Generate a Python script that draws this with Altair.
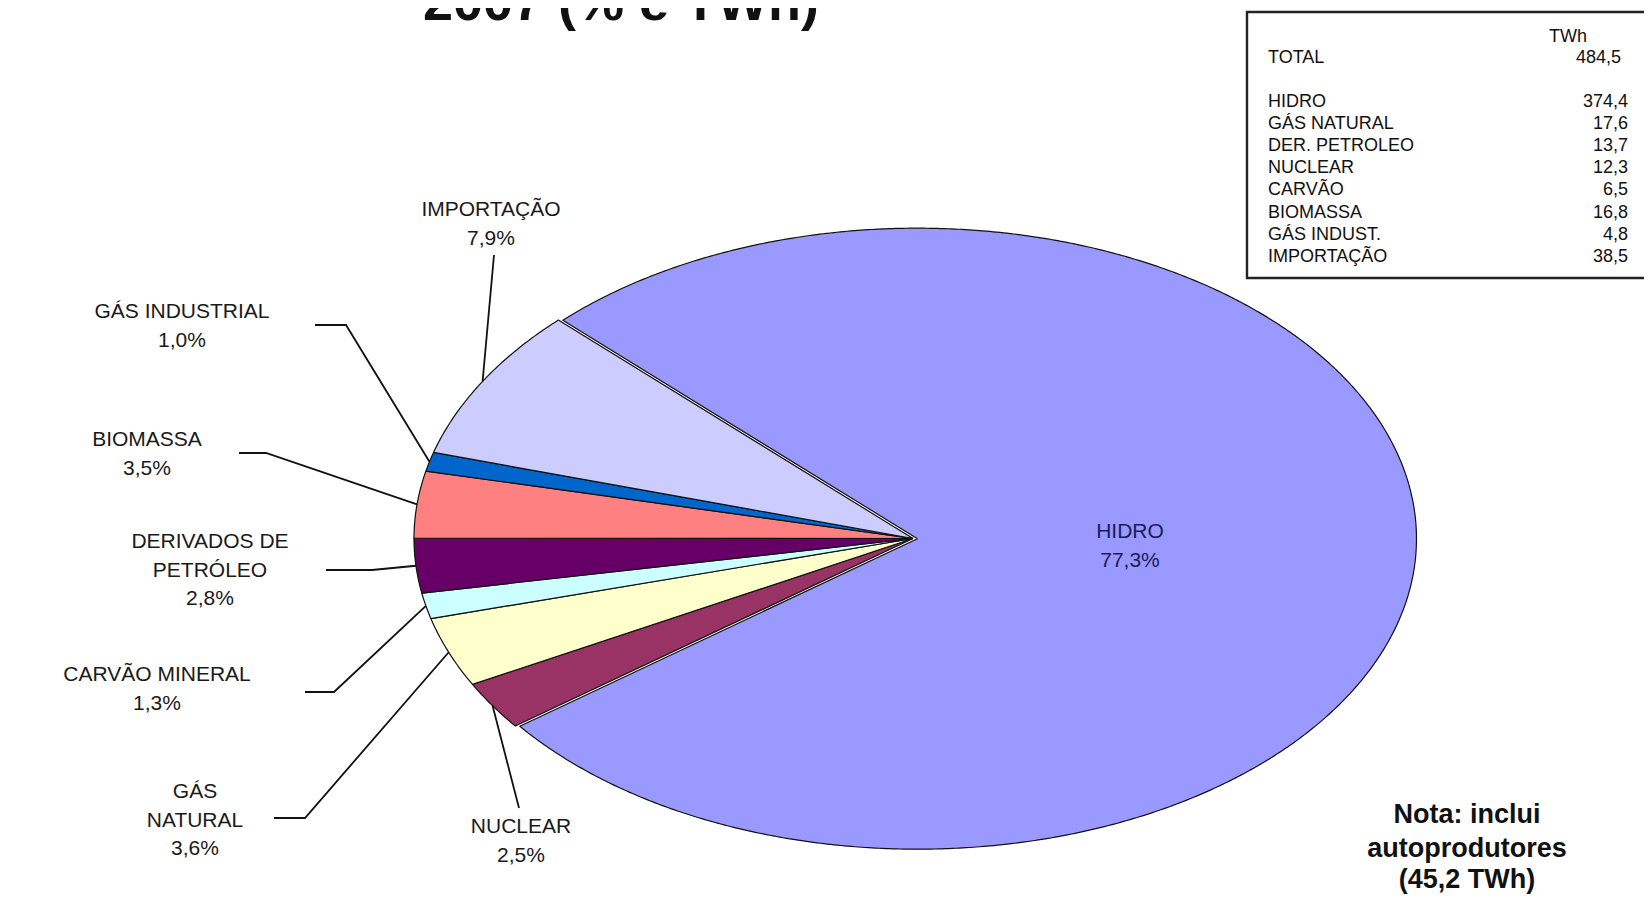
import math
import altair as alt
import pandas as pd

# ------------------------------------------------------------------ data
categories = ["HIDRO", "NUCLEAR", "GÁS NATURAL", "CARVÃO MINERAL",
              "DERIVADOS DE PETRÓLEO", "BIOMASSA", "GÁS INDUSTRIAL", "IMPORTAÇÃO"]
twh = [374.4, 12.3, 17.6, 6.5, 13.7, 16.8, 4.8, 38.5]
pct_labels = ["77,3%", "2,5%", "3,6%", "1,3%", "2,8%", "3,5%", "1,0%", "7,9%"]
label_lines = [["HIDRO"], ["NUCLEAR"], ["GÁS", "NATURAL"], ["CARVÃO MINERAL"],
               ["DERIVADOS DE", "PETRÓLEO"], ["BIOMASSA"], ["GÁS INDUSTRIAL"],
               ["IMPORTAÇÃO"]]
slice_colors = ["#9999FF", "#993366", "#FFFFCC", "#CCFFFF",
                "#660066", "#FF8080", "#0066CC", "#CCCCFF"]

table_header = "TWh"
table_total_label = "TOTAL"
table_total_value = "484,5"
table_labels = ["HIDRO", "GÁS NATURAL", "DER. PETROLEO", "NUCLEAR",
                "CARVÃO", "BIOMASSA", "GÁS INDUST.", "IMPORTAÇÃO"]
table_values = ["374,4", "17,6", "13,7", "12,3", "6,5", "16,8", "4,8", "38,5"]
note_lines = ["Nota: inclui", "autoprodutores", "(45,2 TWh)"]
title_text = "2007 (% e TWh)"

# ------------------------------------------------------------------ layout
W, H = 1636, 890
PAGE = 8
CX, CY, RX, RY = 913.0, 538.5, 499.0, 310.5
START_DEG = -45.3
EXPLODE = {"HIDRO": 0.009}
FONT = "Liberation Sans"


def u(px):
    return (px - CX) / RX


def v(py):
    return (CY - py) / RY


X_DOM = [u(PAGE), u(PAGE + W)]
Y_DOM = [v(PAGE + H), v(PAGE)]

LEADERS = {
    "NUCLEAR": [(519, 808)],
    "GÁS NATURAL": [(305, 818), (274, 818)],
    "CARVÃO MINERAL": [(334, 692), (305, 692)],
    "DERIVADOS DE PETRÓLEO": [(372, 570), (326, 570)],
    "BIOMASSA": [(266, 453), (239, 453)],
    "GÁS INDUSTRIAL": [(346, 325), (315, 325)],
    "IMPORTAÇÃO": [(494, 255)],
}
LABEL_POS = {
    "HIDRO": (1130, 532),
    "NUCLEAR": (521, 827),
    "GÁS NATURAL": (195, 792),
    "CARVÃO MINERAL": (157, 675),
    "DERIVADOS DE PETRÓLEO": (210, 542),
    "BIOMASSA": (147, 440),
    "GÁS INDUSTRIAL": (182, 312),
    "IMPORTAÇÃO": (491, 210),
}
LINE_STEP = 28.5
BOX_PATH = [(1680, 12), (1247, 12), (1247, 278), (1680, 278)]

# ------------------------------------------------------------------ geometry
total = sum(twh)
pie_rows = []
edge_mid = {}
a = START_DEG
for name, val in zip(categories, twh):
    span = val / total * 360.0
    a0 = a
    mid = math.radians(a0 + span / 2)
    ex = EXPLODE.get(name, 0.0)
    ox, oy = ex * math.sin(mid), ex * math.cos(mid)
    n = max(3, int(span / 0.4) + 1)
    pts = [(0.0, 0.0)]
    for k in range(n):
        t = math.radians(a0 + span * k / (n - 1))
        pts.append((math.sin(t), math.cos(t)))
    pts.append((0.0, 0.0))
    for i, (x, y) in enumerate(pts):
        pie_rows.append({"name": name, "i": i, "x": x + ox, "y": y + oy})
    edge_mid[name] = (math.sin(mid) + ox, math.cos(mid) + oy)
    a += span
pie_df = pd.DataFrame(pie_rows)

lead_rows = []
for name, elbows in LEADERS.items():
    ex, ey = edge_mid[name]
    pts = [(ex, ey)] + [(u(px), v(py)) for px, py in elbows]
    for i, (x, y) in enumerate(pts):
        lead_rows.append({"name": name, "i": i, "x": x, "y": y})
lead_df = pd.DataFrame(lead_rows)

lab_rows = []
for name, lines, pct in zip(categories, label_lines, pct_labels):
    px, py = LABEL_POS[name]
    for j, t in enumerate(lines + [pct]):
        lab_rows.append({"name": name, "x": u(px), "y": v(py + j * LINE_STEP),
                         "text": t, "inside": name == "HIDRO"})
lab_df = pd.DataFrame(lab_rows)

xs = alt.Scale(domain=X_DOM, nice=False, zero=False)
ys = alt.Scale(domain=Y_DOM, nice=False, zero=False)
X = lambda f="x": alt.X(f"{f}:Q", scale=xs, axis=None)
Y = lambda f="y": alt.Y(f"{f}:Q", scale=ys, axis=None)

pie = alt.Chart(pie_df).mark_line(
    filled=True, stroke="#111111", strokeWidth=1.2, strokeJoin="round"
).encode(
    x=X(), y=Y(),
    color=alt.Color("name:N", scale=alt.Scale(domain=categories, range=slice_colors),
                    legend=None),
    detail="name:N",
    order=alt.Order("i:Q"),
)

leaders = alt.Chart(lead_df).mark_line(color="#111111", strokeWidth=1.8).encode(
    x=X(), y=Y(), detail="name:N", order=alt.Order("i:Q"))

labels_out = alt.Chart(lab_df[~lab_df["inside"]]).mark_text(
    font=FONT, fontSize=21, color="#1a1a1a", align="center", baseline="middle"
).encode(x=X(), y=Y(), text="text:N")

labels_in = alt.Chart(lab_df[lab_df["inside"]]).mark_text(
    font=FONT, fontSize=21, color="#1b1b58", align="center", baseline="middle"
).encode(x=X(), y=Y(), text="text:N")

# table box (open on the right, as in the reference)
box_df = pd.DataFrame([{"i": k, "x": u(px), "y": v(py)} for k, (px, py) in enumerate(BOX_PATH)])
box = alt.Chart(box_df).mark_line(color="#222222", strokeWidth=2.4).encode(
    x=X(), y=Y(), order=alt.Order("i:Q"))

tl_rows = [{"x": u(1268), "y": v(58), "text": table_total_label}]
tv_rows = [{"x": u(1621), "y": v(58), "text": table_total_value}]
for k, (lab, val) in enumerate(zip(table_labels, table_values)):
    yy = 102 + k * 22.1
    tl_rows.append({"x": u(1268), "y": v(yy), "text": lab})
    tv_rows.append({"x": u(1628), "y": v(yy), "text": val})
tab_left = alt.Chart(pd.DataFrame(tl_rows)).mark_text(
    font=FONT, fontSize=18, color="#111111", align="left", baseline="middle"
).encode(x=X(), y=Y(), text="text:N")
tab_right = alt.Chart(pd.DataFrame(tv_rows)).mark_text(
    font=FONT, fontSize=18, color="#111111", align="right", baseline="middle"
).encode(x=X(), y=Y(), text="text:N")
tab_head = alt.Chart(pd.DataFrame([{"x": u(1568), "y": v(37), "text": table_header}])).mark_text(
    font=FONT, fontSize=18, color="#111111", align="center", baseline="middle"
).encode(x=X(), y=Y(), text="text:N")

note_df = pd.DataFrame([{"x": u(1467), "y": v(yy), "text": t}
                        for t, yy in zip(note_lines, [815, 849, 880])])
note = alt.Chart(note_df).mark_text(
    font=FONT, fontSize=27, fontWeight="bold", color="#111111",
    align="center", baseline="middle"
).encode(x=X(), y=Y(), text="text:N")

title_df = pd.DataFrame([{"x": u(621), "y": v(20), "text": title_text}])
title = alt.Chart(title_df).mark_text(
    font=FONT, fontSize=54, fontWeight="bold", color="#111111",
    align="center", baseline="alphabetic"
).encode(x=X(), y=Y(), text="text:N")

chart = alt.layer(
    pie, leaders, labels_out, labels_in, box, tab_head, tab_left, tab_right, note, title
).properties(
    width=W, height=H, padding=0,
    autosize=alt.AutoSizeParams(type="none"),
).configure_view(stroke=None)

chart.save("out.html", embed_options={"renderer": "svg", "actions": False})
